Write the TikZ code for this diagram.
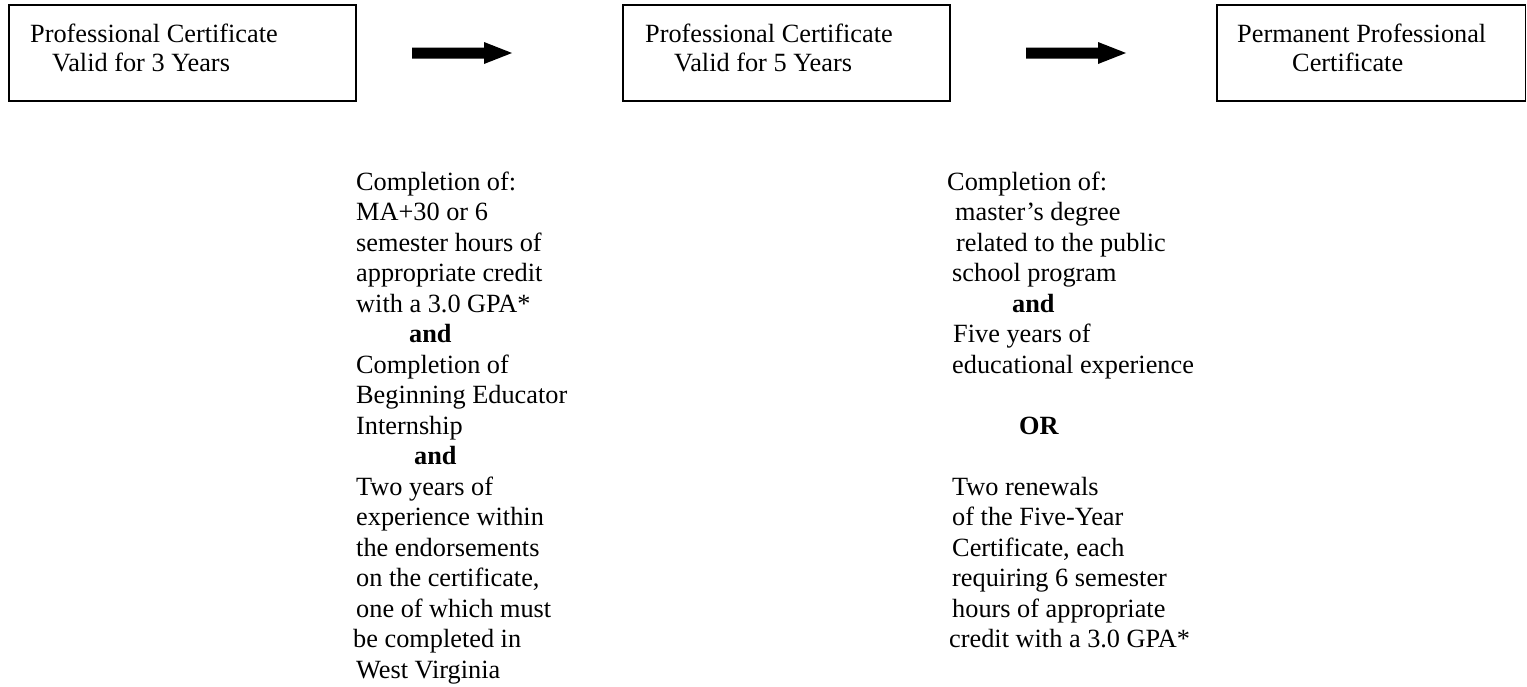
\documentclass[tikz,border=0pt]{standalone}
\usepackage{fontspec}
\setmainfont{Liberation Serif}
\newcommand\bodyfont{\fontsize{26.3}{30.5}\selectfont}
\newcommand\myblockarrow[2]{\fill (#1) ++(0,-5.5) -- ++(72,0) -- ++(0,-5.5) -- (#2) -- ++(-28,11) -- ++(0,-5.5) -- ++(-72,0) -- cycle;}
\begin{document}
\begin{tikzpicture}[x=1pt,y=-1pt,
  certbox/.style={draw, line width=1.5pt, anchor=north west, inner sep=0pt, outer sep=0pt},
  ln/.style={anchor=base west, inner sep=0pt, font=\bodyfont},
  bln/.style={ln, font=\bodyfont\bfseries}]
\useasboundingbox (0,0) rectangle (1527,686);
% boxes
\node[certbox, minimum width=347pt, minimum height=96pt] (b1) at (9,5) {};
\node[certbox, minimum width=327pt, minimum height=96pt] (b2) at (623,5) {};
\node[certbox, minimum width=308.5pt, minimum height=96pt] (b3) at (1217,5) {};
% box texts
\node[ln] (t1a) at (30,42) {Professional Certificate};
\node[ln] (t1b) at (52,71) {Valid for 3 Years};
\node[ln] (t2a) at (645,42) {Professional Certificate};
\node[ln] (t2b) at (674,71) {Valid for 5 Years};
\node[ln] (t3a) at (1237,42) {Permanent Professional};
\node[ln] (t3b) at (1292,71) {Certificate};
% arrows
\coordinate (a1s) at (412,53);
\coordinate (a1e) at (512,53);
\coordinate (a2s) at (1026,53);
\coordinate (a2e) at (1126,53);
\myblockarrow{a1s}{a1e}
\myblockarrow{a2s}{a2e}
% left column
\node[ln] (l0) at (356,190) {Completion of:};
\node[ln] (l1) at (356,220.5) {MA+30 or 6};
\node[ln] (l2) at (356,251) {semester hours of};
\node[ln] (l3) at (356,281.5) {appropriate credit};
\node[ln] (l4) at (356,312) {with a 3.0 GPA*};
\node[bln] (l5) at (409,342.5) {and};
\node[ln] (l6) at (356,373) {Completion of};
\node[ln] (l7) at (356,403.5) {Beginning Educator};
\node[ln] (l8) at (356,434) {Internship};
\node[bln] (l9) at (414,464.5) {and};
\node[ln] (l10) at (356,495) {Two years of};
\node[ln] (l11) at (356,525.5) {experience within};
\node[ln] (l12) at (356,556) {the endorsements};
\node[ln] (l13) at (356,586.5) {on the certificate,};
\node[ln] (l14) at (356,617) {one of which must};
\node[ln] (l15) at (353,647.5) {be completed in};
\node[ln] (l16) at (356,678) {West Virginia};
% right column
\node[ln] (r0) at (947,190) {Completion of:};
\node[ln] (r1) at (955,220.5) {master’s degree};
\node[ln] (r2) at (956,251) {related to the public};
\node[ln] (r3) at (952,281.5) {school program};
\node[bln] (r4) at (1012,312) {and};
\node[ln] (r5) at (953,342.5) {Five years of};
\node[ln] (r6) at (952,373) {educational experience};
\node[bln] (r8) at (1019,434) {OR};
\node[ln] (r10) at (952,495) {Two renewals};
\node[ln] (r11) at (952,525.5) {of the Five-Year};
\node[ln] (r12) at (952,556) {Certificate, each};
\node[ln] (r13) at (952,586.5) {requiring 6 semester};
\node[ln] (r14) at (952,617) {hours of appropriate};
\node[ln] (r15) at (949,647.5) {credit with a 3.0 GPA*};
\end{tikzpicture}
\end{document}
